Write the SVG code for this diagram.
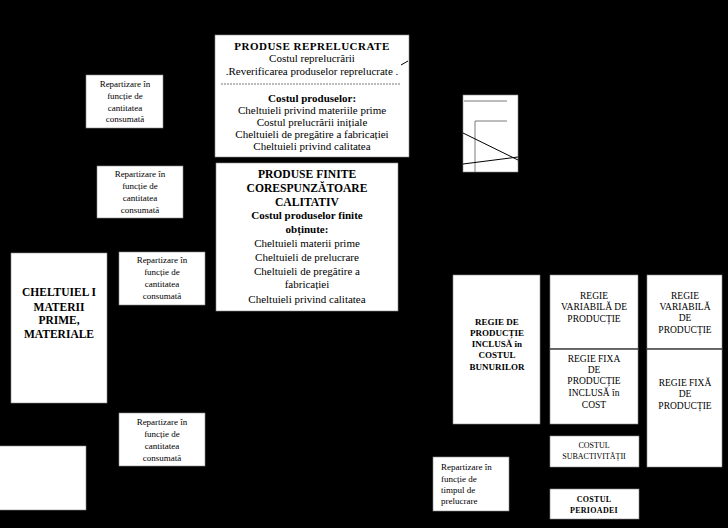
<svg xmlns="http://www.w3.org/2000/svg" width="728" height="528" viewBox="0 0 728 528" font-family="'Liberation Serif', 'DejaVu Serif', serif">
<style>
.bx{fill:#ffffff;stroke:#8a8a8a;stroke-width:0.6}
text{font-family:'Liberation Serif','DejaVu Serif',serif;fill:#000;text-anchor:middle}
.t11{font-size:11px}
.b11{font-size:11px;font-weight:bold}
.b12{font-size:11.6px;font-weight:bold}
.s8{font-size:9px}
.r9{font-size:9.5px}
.rb9{font-size:9px;font-weight:bold}
.c8{font-size:8px}
.cb8{font-size:8px;font-weight:bold;letter-spacing:0.3px}
.gl{stroke:#7a7a7a;stroke-width:1;fill:none}
.kl{stroke:#000;stroke-width:1;fill:none}
</style>
<rect x="0" y="0" width="728" height="528" fill="#000"/>

<g id="produse-reprelucrate">
<rect class="bx" x="215" y="35" width="194" height="122"/>
<text class="b11" x="312" y="50" style="letter-spacing:0.5px">PRODUSE REPRELUCRATE</text>
<text class="t11" x="312" y="62">Costul reprelucrării</text>
<text class="t11" x="312" y="75">.Reverificarea produselor reprelucrate .</text>
<line x1="221" y1="84" x2="401" y2="84" stroke="#777" stroke-width="1" stroke-dasharray="2,1"/>
<text class="b11" x="312" y="102">Costul produselor:</text>
<text class="t11" x="312" y="114">Cheltuieli privind materiile prime</text>
<text class="t11" x="312" y="126">Costul prelucrării inițiale</text>
<text class="t11" x="312" y="138">Cheltuieli de pregătire a fabricației</text>
<text class="t11" x="312" y="150">Cheltuieli privind calitatea</text>
</g>

<g id="produse-finite">
<rect class="bx" x="216" y="163" width="182" height="148"/>
<text class="b12" x="307" y="178">PRODUSE FINITE</text>
<text class="b12" x="307" y="192">CORESPUNZĂTOARE</text>
<text class="b12" x="307" y="206">CALITATIV</text>
<text class="b11" x="307" y="219">Costul produselor finite</text>
<text class="b11" x="307" y="233">obținute:</text>
<text class="t11" x="307" y="247">Cheltuieli materii prime</text>
<text class="t11" x="307" y="261">Cheltuieli de prelucrare</text>
<text class="t11" x="307" y="275">Cheltuieli de pregătire a</text>
<text class="t11" x="307" y="288">fabricației</text>
<text class="t11" x="307" y="303">Cheltuieli privind calitatea</text>
</g>

<g id="repartizare-1">
<rect class="bx" x="86" y="75" width="77" height="53"/>
<text class="s8" x="125" y="87">Repartizare în</text>
<text class="s8" x="125" y="99">funcție de</text>
<text class="s8" x="125" y="111">cantitatea</text>
<text class="s8" x="125" y="122">consumată</text>
</g>

<g id="repartizare-2">
<rect class="bx" x="97" y="166" width="86" height="52"/>
<text class="s8" x="140" y="177">Repartizare în</text>
<text class="s8" x="140" y="189">funcție de</text>
<text class="s8" x="140" y="201">cantitatea</text>
<text class="s8" x="140" y="213">consumată</text>
</g>

<g id="repartizare-3">
<rect class="bx" x="119" y="252" width="86" height="53"/>
<text class="s8" x="162" y="263">Repartizare în</text>
<text class="s8" x="162" y="275">funcție de</text>
<text class="s8" x="162" y="287">cantitatea</text>
<text class="s8" x="162" y="299">consumată</text>
</g>

<g id="repartizare-4">
<rect class="bx" x="119" y="413" width="86" height="53"/>
<text class="s8" x="162" y="425">Repartizare în</text>
<text class="s8" x="162" y="437">funcție de</text>
<text class="s8" x="162" y="449">cantitatea</text>
<text class="s8" x="162" y="461">consumată</text>
</g>

<g id="cheltuieli-materii">
<rect class="bx" x="11" y="253" width="96" height="150"/>
<text class="b11" x="59" y="296" style="font-size:11.5px">CHELTUIEL I</text>
<text class="b11" x="59" y="311" style="font-size:11.5px">MATERII</text>
<text class="b11" x="59" y="324" style="font-size:11.5px">PRIME,</text>
<text class="b11" x="59" y="338" style="font-size:11.5px">MATERIALE</text>
</g>

<g id="blank-box">
<rect class="bx" x="-1" y="446" width="87" height="64"/>
</g>

<g id="small-box">
<rect class="bx" x="463" y="95" width="55" height="77"/>
</g>

<g id="regie-inclusa">
<rect class="bx" x="453" y="275" width="87" height="149"/>
<text class="rb9" x="497" y="325">REGIE DE</text>
<text class="rb9" x="497" y="336">PRODUCȚIE</text>
<text class="rb9" x="497" y="347">INCLUSĂ în</text>
<text class="rb9" x="497" y="358">COSTUL</text>
<text class="rb9" x="497" y="370">BUNURILOR</text>
</g>

<g id="regie-variabila-1">
<rect class="bx" x="550" y="275" width="88" height="74"/>
<text class="r9" x="594" y="299">REGIE</text>
<text class="r9" x="594" y="310">VARIABILĂ DE</text>
<text class="r9" x="594" y="322">PRODUCȚIE</text>
</g>

<g id="regie-fixa-inclusa">
<rect class="bx" x="550" y="349" width="88" height="75"/>
<text class="r9" x="594" y="362">REGIE FIXA</text>
<text class="r9" x="594" y="373">DE</text>
<text class="r9" x="594" y="384">PRODUCȚIE</text>
<text class="r9" x="594" y="396">INCLUSĂ în</text>
<text class="r9" x="594" y="408">COST</text>
</g>

<g id="regie-variabila-2">
<rect class="bx" x="647" y="275" width="75" height="74"/>
<text class="r9" x="685" y="299">REGIE</text>
<text class="r9" x="685" y="310">VARIABILĂ</text>
<text class="r9" x="685" y="321">DE</text>
<text class="r9" x="685" y="333">PRODUCȚIE</text>
</g>

<g id="regie-fixa">
<rect class="bx" x="647" y="349" width="75" height="118"/>
<text class="r9" x="685" y="386">REGIE FIXĂ</text>
<text class="r9" x="685" y="397">DE</text>
<text class="r9" x="685" y="409">PRODUCȚIE</text>
</g>

<g id="costul-subactivitatii">
<rect class="bx" x="550" y="436" width="89" height="31"/>
<text class="c8" x="594" y="448">COSTUL</text>
<text class="c8" x="594" y="459">SUBACTIVITĂȚII</text>
</g>

<g id="costul-perioadei">
<rect class="bx" x="550" y="489" width="89" height="30"/>
<text class="cb8" x="594" y="502">COSTUL</text>
<text class="cb8" x="594" y="513">PERIOADEI</text>
</g>

<g id="repartizare-timp">
<rect class="bx" x="433" y="457" width="76" height="54"/>
<text class="s8" x="441" y="470" style="text-anchor:start">Repartizare în</text>
<text class="s8" x="441" y="482" style="text-anchor:start">funcție de</text>
<text class="s8" x="441" y="493" style="text-anchor:start">timpul de</text>
<text class="s8" x="441" y="504" style="text-anchor:start">prelucrare</text>
</g>

<g id="connectors">
<line class="kl" x1="401" y1="65" x2="408" y2="61"/>
<polyline class="gl" points="464,101 507,101"/>
<polyline class="gl" points="507,121 475,121 475,172"/>
<line class="kl" x1="463" y1="133" x2="518" y2="160"/>
<line class="kl" x1="463" y1="164" x2="518" y2="157"/>
<line class="kl" x1="550" y1="349" x2="638" y2="349"/>
<line class="kl" x1="647" y1="349" x2="722" y2="349"/>
</g>
</svg>
